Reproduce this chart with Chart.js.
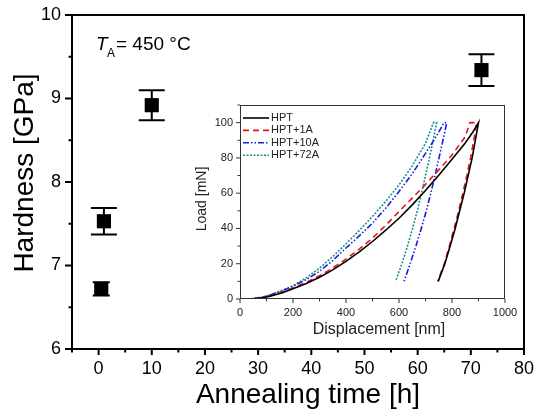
<!DOCTYPE html>
<html><head><meta charset="utf-8">
<script src="https://cdn.jsdelivr.net/npm/chart.js@4.4.0/dist/chart.umd.min.js"></script>
<style>
html,body{margin:0;padding:0;background:#fff;}
#wrap{position:relative;width:534px;height:411px;background:#fff;}
#main{position:absolute;left:0;top:0;}
#inset{position:absolute;left:190px;top:95px;}
</style></head><body>
<div id="wrap"><canvas id="main" width="534" height="411"></canvas><canvas id="inset" width="340" height="250"></canvas></div>
<script>
// ---- Main chart data ----
const annealTime = [0.5, 1, 10, 72];
const hardness = [6.72, 7.53, 8.92, 9.34];
const hardnessErr = [0.08, 0.16, 0.18, 0.19];
const mainXTicks = [0, 10, 20, 30, 40, 50, 60, 70, 80];
const mainYTicks = [6, 7, 8, 9, 10];
const mainXTitle = 'Annealing time [h]';
const mainYTitle = 'Hardness [GPa]';

// ---- Inset data (load-displacement curves) ----
const seriesNames = ['HPT', 'HPT+1A', 'HPT+10A', 'HPT+72A'];
const hptDisp = [0,40,80,120,160,200,250,300,350,400,450,500,550,600,650,700,750,800,850,880,900, 888,876,861,846,829,812,793,773,748];
const hptLoad = [0,0,0.5,1.8,3.6,5.8,8.8,12.3,16.5,21.3,26.7,32.6,39,45.8,53.4,61.5,70.2,79.2,88.5,95,100, 90,80,70,60,50,40,30,20,10];
const hpt1Disp = [0,40,80,120,160,200,250,300,350,400,450,500,550,600,650,700,750,800,850,868,893, 882,870,856,841,825,808,790,771,746];
const hpt1Load = [0,0,0.6,2,3.9,6.2,9.4,13.2,17.6,22.6,28.3,34.5,41.8,49.6,57.2,65,73.2,81.7,92,100,100, 90,80,70,60,50,40,30,20,10];
const hpt10Disp = [0,40,80,120,160,200,250,300,350,400,450,500,550,600,650,700,740,770,780, 766,751,736,720,703,684,664,642,619];
const hpt10Load = [0,0.1,0.8,2.5,4.6,7.2,11,15.7,21.8,28.9,35.8,43,51.5,61,71,82.6,92,100,100, 90,80,70,60,50,40,30,20,10];
const hpt72Disp = [0,40,80,120,160,200,250,300,350,400,450,500,550,600,650,700,730,742, 729,715,700,685,669,651,632,611,587];
const hpt72Load = [0,0.1,0.9,2.7,5,7.5,12,17.5,24,31.3,38.8,46.8,55.4,64.7,75.5,88.3,100,100, 90,80,70,60,50,40,30,20,10];
const insetXTicks = [0, 200, 400, 600, 800, 1000];
const insetYTicks = [0, 20, 40, 60, 80, 100];
const insetXTitle = 'Displacement [nm]';
const insetYTitle = 'Load [mN]';

const FONT = '"Liberation Sans", Arial, Helvetica, sans-serif';
Chart.defaults.font.family = FONT;
Chart.defaults.color = '#000';

function pts(xs, ys) { return xs.map((x, i) => ({x: x, y: ys[i]})); }

function fixScale(size, horizontal) {
  return function (scale) {
    if (horizontal) scale.height = size; else scale.width = size;
    scale.paddingLeft = 0; scale.paddingRight = 0; scale.paddingTop = 0; scale.paddingBottom = 0;
  };
}

function drawTickMarks(ctx, scale, majors, majorLen, minorLen, lw, color, horizontal) {
  ctx.save();
  ctx.strokeStyle = color; ctx.lineWidth = lw;
  scale.ticks.forEach(t => {
    const v = Math.round(t.value * 1000) / 1000;
    const len = majors.includes(v) ? majorLen : minorLen;
    const p = scale.getPixelForValue(t.value);
    ctx.beginPath();
    if (horizontal) { ctx.moveTo(p, scale.top); ctx.lineTo(p, scale.top + len); }
    else { ctx.moveTo(scale.right, p); ctx.lineTo(scale.right - len, p); }
    ctx.stroke();
  });
  ctx.restore();
}

// ---- Main chart ----
const mainPlugin = {
  id: 'mainDecor',
  beforeDatasetsDraw(chart, args, opts) {
    const ctx = chart.ctx, xs = chart.scales.x, ys = chart.scales.y;
    ctx.save();
    ctx.strokeStyle = '#000'; ctx.lineWidth = 2;
    annealTime.forEach((t, i) => {
      const x = xs.getPixelForValue(t);
      const yT = ys.getPixelForValue(hardness[i] + hardnessErr[i]);
      const yB = ys.getPixelForValue(hardness[i] - hardnessErr[i]);
      const hw = opts.capWidths[i] / 2;
      ctx.beginPath();
      ctx.moveTo(x, yT); ctx.lineTo(x, yB);
      ctx.moveTo(x - hw, yT); ctx.lineTo(x + hw, yT);
      ctx.moveTo(x - hw, yB); ctx.lineTo(x + hw, yB);
      ctx.stroke();
    });
    ctx.restore();
  },
  afterDraw(chart) {
    const ctx = chart.ctx, ca = chart.chartArea;
    drawTickMarks(ctx, chart.scales.x, mainXTicks, 6, 3.5, 2, '#000', true);
    drawTickMarks(ctx, chart.scales.y, mainYTicks, 7, 3.5, 2, '#000', false);
    ctx.save();
    ctx.strokeStyle = '#000'; ctx.lineWidth = 2;
    ctx.strokeRect(ca.left, ca.top, ca.right - ca.left, ca.bottom - ca.top);
    ctx.fillStyle = '#000';
    // axis titles
    ctx.font = '28px ' + FONT;
    ctx.textAlign = 'center'; ctx.textBaseline = 'alphabetic';
    ctx.fillText(mainXTitle, 308, 403);
    ctx.translate(33, 173); ctx.rotate(-Math.PI / 2);
    ctx.fillText(mainYTitle, 0, 0);
    ctx.restore();
    // annotation T_A = 450 °C
    ctx.save();
    ctx.fillStyle = '#000'; ctx.textAlign = 'left'; ctx.textBaseline = 'alphabetic';
    ctx.font = 'italic 19px ' + FONT;
    ctx.fillText('T', 96, 50);
    ctx.font = '12px ' + FONT;
    ctx.fillText('A', 107, 57);
    ctx.font = '19px ' + FONT;
    ctx.fillText('= 450 \u00B0C', 116, 50);
    ctx.restore();
  }
};

new Chart(document.getElementById('main'), {
  type: 'scatter',
  data: {
    datasets: [{
      data: pts(annealTime, hardness),
      pointStyle: 'rect', pointRadius: 10, pointHoverRadius: 10,
      backgroundColor: '#000', borderColor: '#000', borderWidth: 0
    }]
  },
  options: {
    responsive: false, animation: false, devicePixelRatio: 1,
    layout: {padding: {top: 15, right: 10, left: 0, bottom: 0}},
    plugins: {legend: {display: false}, tooltip: {enabled: false},
      mainDecor: {capWidths: [17, 26, 26, 26]}},
    scales: {
      x: {
        type: 'linear', min: -5, max: 80,
        grid: {display: false, drawTicks: false}, border: {display: false},
        ticks: {stepSize: 5, autoSkip: false, maxRotation: 0, padding: 9,
          font: {size: 18, family: FONT}, color: '#000',
          callback: v => mainXTicks.includes(v) ? String(v) : ''},
        afterFit: fixScale(62, true)
      },
      y: {
        type: 'linear', min: 6, max: 10,
        grid: {display: false, drawTicks: false}, border: {display: false},
        ticks: {stepSize: 0.5, autoSkip: false, padding: 11,
          font: {size: 18, family: FONT}, color: '#000',
          callback: v => mainYTicks.includes(v) ? String(v) : ''},
        afterFit: fixScale(72, false)
      }
    }
  },
  plugins: [mainPlugin]
});

// ---- Inset chart ----
const insetColors = ['#000000', '#e8141c', '#1c1ce0', '#1a9090'];
const insetDashes = [[], [6, 4], [6, 2, 1.5, 2, 1.5, 2], [2, 1.5]];

const insetPlugin = {
  id: 'insetDecor',
  afterDraw(chart) {
    const ctx = chart.ctx, ca = chart.chartArea;
    drawTickMarks(ctx, chart.scales.x, insetXTicks, 4, 2.5, 1, '#333', true);
    drawTickMarks(ctx, chart.scales.y, insetYTicks, 4, 2.5, 1, '#333', false);
    ctx.save();
    ctx.strokeStyle = '#333'; ctx.lineWidth = 1;
    ctx.strokeRect(ca.left + 0.5, ca.top + 0.5, ca.right - ca.left - 1, ca.bottom - ca.top - 1);
    ctx.fillStyle = '#222';
    ctx.font = '16px ' + FONT;
    ctx.textAlign = 'center'; ctx.textBaseline = 'middle';
    ctx.fillText(insetXTitle, 189, 235);
    ctx.save();
    ctx.font = '14px ' + FONT;
    ctx.translate(12, 104); ctx.rotate(-Math.PI / 2);
    ctx.fillText(insetYTitle, 0, 0);
    ctx.restore();
    // legend
    ctx.font = '11px ' + FONT;
    ctx.textAlign = 'left';
    seriesNames.forEach((name, i) => {
      const y = 23 + i * 12.4;
      ctx.strokeStyle = insetColors[i]; ctx.lineWidth = 1.6;
      ctx.setLineDash(insetDashes[i]);
      ctx.beginPath(); ctx.moveTo(53, y); ctx.lineTo(79, y); ctx.stroke();
      ctx.setLineDash([]);
      ctx.fillStyle = '#222';
      ctx.fillText(name, 81, y);
    });
    ctx.restore();
  }
};

const insetSeries = [pts(hptDisp, hptLoad), pts(hpt1Disp, hpt1Load), pts(hpt10Disp, hpt10Load), pts(hpt72Disp, hpt72Load)];

new Chart(document.getElementById('inset'), {
  type: 'scatter',
  data: {
    datasets: insetSeries.map((d, i) => ({
      label: seriesNames[i], data: d, showLine: true, tension: 0,
      borderColor: insetColors[i], borderWidth: 1.6, borderDash: insetDashes[i],
      pointRadius: 0, fill: false
    }))
  },
  options: {
    responsive: false, animation: false, devicePixelRatio: 1,
    layout: {padding: {top: 10, right: 25, left: 0, bottom: 0}},
    plugins: {legend: {display: false}, tooltip: {enabled: false}},
    scales: {
      x: {
        type: 'linear', min: 0, max: 1000,
        grid: {display: false, drawTicks: false}, border: {display: false},
        ticks: {stepSize: 100, autoSkip: false, maxRotation: 0, padding: 7,
          font: {size: 11, family: FONT}, color: '#222',
          callback: v => insetXTicks.includes(v) ? String(v) : ''},
        afterFit: fixScale(46, true)
      },
      y: {
        type: 'linear', min: 0, max: 110,
        grid: {display: false, drawTicks: false}, border: {display: false},
        ticks: {stepSize: 10, autoSkip: false, padding: 7,
          font: {size: 11, family: FONT}, color: '#222',
          callback: v => insetYTicks.includes(v) ? String(v) : ''},
        afterFit: fixScale(50, false)
      }
    }
  },
  plugins: [insetPlugin]
});
</script>
</body></html>
